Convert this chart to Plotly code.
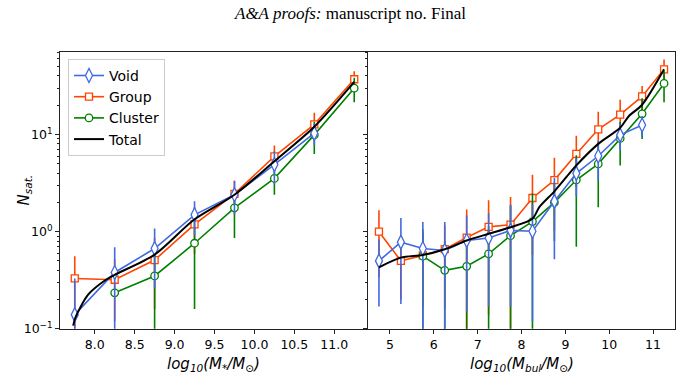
import plotly.graph_objects as go

# ---------------- data ----------------
x_left = [7.75, 8.25, 8.75, 9.25, 9.75, 10.25, 10.75, 11.25]
void_left = [0.14, 0.38, 0.67, 1.49, 2.4, 4.9, 10.3, None]
void_left_err = [0.19, 0.31, 0.41, 0.57, 0.9, 1.8, 2.5, None]
group_left = [0.33, 0.32, 0.51, 1.19, 2.45, 5.95, 12.7, 37.0]
group_left_err = [0.23, 0.2, 0.35, 0.6, 0.9, 1.75, 4.0, 7.7]
cluster_left = [None, 0.235, 0.35, 0.76, 1.76, 3.53, 9.9, 29.9]
cluster_left_err = [None, 0.0, 0.3, 0.6, 0.9, 1.13, 3.6, 8.4]
total_left_x = [7.73, 7.76, 7.92, 8.14, 8.25, 8.75, 9.25, 9.75, 10.25, 10.75, 11.25]
total_left = [0.108, 0.132, 0.226, 0.32, 0.36, 0.58, 1.34, 2.4, 5.3, 12.0, 34.7]

x_right = [4.75, 5.25, 5.75, 6.25, 6.75, 7.25, 7.75, 8.25, 8.75, 9.25, 9.75, 10.25, 10.75, 11.25]
void_right = [0.50, 0.78, 0.67, 0.64, 0.81, 0.86, 1.03, 1.01, 2.05, 3.98, 6.0, 9.85, 12.5, None]
void_right_err = [0.33, 0.6, 0.59, 0.62, 0.66, 0.69, 0.86, 0.89, 1.53, 1.67, 2.6, 3.0, 3.0, None]
group_right = [1.0, 0.50, 0.57, 0.66, 0.87, 1.12, 1.18, 2.22, 3.39, 6.3, 11.3, 16.0, 24.6, 46.8]
group_right_err = [0.66, 0.3, 0.4, 0.5, 0.82, 0.98, 1.09, 1.64, 2.36, 3.4, 5.8, 6.7, 6.9, 12.2]
cluster_right = [None, None, 0.56, 0.40, 0.44, 0.59, 0.91, 1.27, 2.0, 3.4, 4.98, 9.1, 16.3, 33.5]
cluster_right_err = [None, None, 0.5, 0.4, 0.4, 0.55, 0.95, 1.2, 1.2, 2.7, 3.2, 4.3, 7.3, 12.0]
total_right_x = [4.75, 5.25, 5.75, 6.25, 6.75, 7.25, 7.75, 8.25, 8.41, 8.75, 9.25, 9.75, 10.25, 10.45, 10.75, 11.25]
total_right = [0.43, 0.54, 0.575, 0.66, 0.81, 0.95, 1.11, 1.36, 1.8, 2.6, 4.8, 8.0, 11.7, 15.5, 20.2, 46.8]

left_ticks = [8.0, 8.5, 9.0, 9.5, 10.0, 10.5, 11.0]
right_ticks = [5, 6, 7, 8, 9, 10, 11]
y_ticks = [0.1, 1, 10]
y_ticktext = ["10<sup>\u22121</sup>", "10<sup>0</sup>", "10<sup>1</sup>"]
y_minor = [v * m for v in (0.1, 1, 10) for m in range(2, 10)]

# ---------------- styles ----------------
C_VOID = "#4169E1"
C_GROUP = "#FF4500"
C_CLUSTER = "#008000"
FONT = "DejaVu Sans"

fig = go.Figure()

series = [
    ("Group", C_GROUP, "square", 7, 2,
     (x_left, group_left, group_left_err), (x_right, group_right, group_right_err)),
    ("Cluster", C_CLUSTER, "circle", 7.5, 3,
     (x_left, cluster_left, cluster_left_err), (x_right, cluster_right, cluster_right_err)),
    ("Void", C_VOID, "diamond-tall", 10, 1,
     (x_left, void_left, void_left_err), (x_right, void_right, void_right_err)),
]

for name, col, sym, size, rank, L, R in series:
    for i, (xs, ys, es) in enumerate((L, R)):
        fig.add_trace(go.Scatter(
            x=xs, y=ys, mode="lines+markers", name=name,
            xaxis="x" if i == 0 else "x2", yaxis="y" if i == 0 else "y2",
            line=dict(color=col, width=1.6),
            marker=dict(symbol=sym, size=size, color="white",
                        line=dict(color=col, width=1.3)),
            error_y=dict(type="data", array=es, symmetric=True,
                         color=col, thickness=1.6, width=0),
            showlegend=(i == 0), legendrank=rank, legendgroup=name,
        ))

fig.add_trace(go.Scatter(x=total_left_x, y=total_left, mode="lines", name="Total",
                         line=dict(color="black", width=2, shape="spline", smoothing=0.8),
                         xaxis="x", yaxis="y", legendrank=4, legendgroup="Total"))
fig.add_trace(go.Scatter(x=total_right_x, y=total_right, mode="lines", name="Total",
                         line=dict(color="black", width=2, shape="spline", smoothing=0.8),
                         xaxis="x2", yaxis="y2", showlegend=False, legendgroup="Total"))

W, H = 683, 381
L0, L1, R0, R1 = 60, 367, 368, 675
TOP, BOT = 53, 335

axis_common = dict(showline=True, linecolor="#222", linewidth=1, mirror=True,
                   ticks="outside", ticklen=4, tickcolor="#222", showgrid=False,
                   zeroline=False, tickfont=dict(family=FONT, size=12.5, color="black"))

fig.update_layout(
    width=W, height=H, margin=dict(l=0, r=0, t=0, b=0),
    paper_bgcolor="white", plot_bgcolor="white",
    xaxis=dict(domain=[L0 / W, L1 / W], range=[7.565, 11.41],
               tickvals=left_ticks, ticktext=[f"{v:.1f}" for v in left_ticks],
               anchor="y", **axis_common),
    xaxis2=dict(domain=[R0 / W, R1 / W], range=[4.5, 11.5],
                tickvals=right_ticks, ticktext=[str(v) for v in right_ticks],
                anchor="y2", **axis_common),
    yaxis=dict(type="log", domain=[1 - BOT / H, 1 - TOP / H], range=[-1, 1.848],
               tickvals=y_ticks, ticktext=y_ticktext, anchor="x",
               minor=dict(tickvals=y_minor, ticks="outside", ticklen=2, tickcolor="#222"),
               **axis_common),
    yaxis2=dict(type="log", domain=[1 - BOT / H, 1 - TOP / H], range=[-1, 1.848],
                tickvals=y_ticks, showticklabels=False, anchor="x2", matches="y",
                minor=dict(tickvals=y_minor, ticks="outside", ticklen=2, tickcolor="#222"),
                **axis_common),
    legend=dict(x=68 / W, y=1 - 60 / H, xanchor="left", yanchor="top",
                bgcolor="white", bordercolor="#cccccc", borderwidth=1,
                font=dict(family=FONT, size=14, color="black"),
                tracegroupgap=0, itemwidth=30),
    showlegend=True,
)

fig.add_annotation(text="<i>A&amp;A proofs:</i> manuscript no. Final",
                   x=350 / W, y=1 - 14 / H, xref="paper", yref="paper",
                   xanchor="center", yanchor="middle",
                   showarrow=False, font=dict(family="Liberation Serif", size=17, color="black"))
fig.add_annotation(text="<i>N<sub>sat.</sub></i>", x=24 / W, y=1 - 194 / H,
                   xref="paper", yref="paper", showarrow=False, textangle=-90,
                   xanchor="center", yanchor="middle",
                   font=dict(family=FONT, size=15, color="black"))
fig.add_annotation(text="<i>log<sub>10</sub>(M<sub>*</sub>/M<sub>\u2299</sub>)</i>",
                   x=(L0 + L1) / 2 / W, y=1 - 371 / H, xref="paper", yref="paper",
                   xanchor="center", yanchor="middle",
                   showarrow=False, font=dict(family=FONT, size=15, color="black"))
fig.add_annotation(text="<i>log<sub>10</sub>(M<sub>bul</sub>/M<sub>\u2299</sub>)</i>",
                   x=(R0 + R1) / 2 / W, y=1 - 371 / H, xref="paper", yref="paper",
                   xanchor="center", yanchor="middle",
                   showarrow=False, font=dict(family=FONT, size=15, color="black"))

fig.write_html("out.html")
